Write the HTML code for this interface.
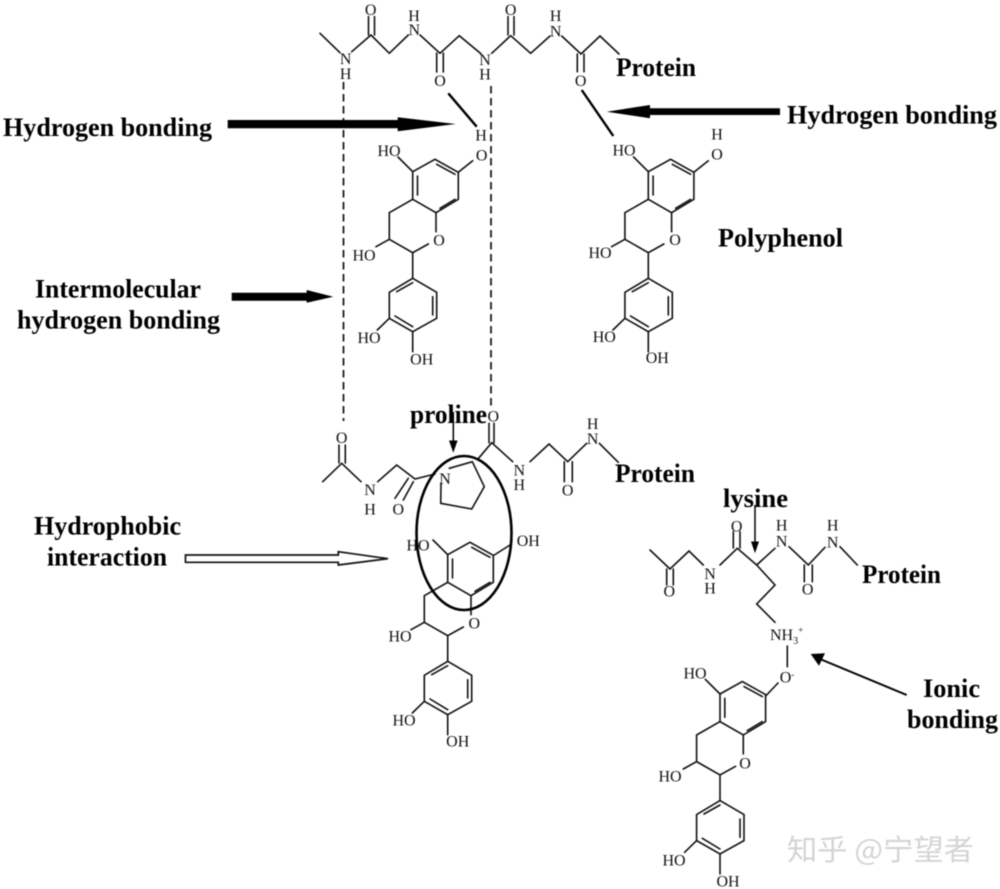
<!DOCTYPE html>
<html><head><meta charset="utf-8"><style>
html,body{margin:0;padding:0;background:#fff;width:1000px;height:889px;overflow:hidden}
svg{display:block;filter:blur(.45px)}
.b{fill:none;stroke:#111;stroke-width:1.6;stroke-linejoin:miter;stroke-linecap:round}
.a{font:16px "Liberation Serif",serif;fill:#111;text-anchor:middle}
.t{font:bold 26px "Liberation Serif",serif;fill:#000}
</style></head><body>
<svg width="1000" height="889" viewBox="0 0 1000 889" xmlns="http://www.w3.org/2000/svg">
<defs>
<g id="cat" class="b">
<path d="M412.7 171.7L435 159.3L458.3 172.3V199.3L436 212.7L412.7 199.3Z"/>
<path d="M417.5 176V195M436.7 164.3L455 174.3M440 208.3L455 199.3"/>
<path d="M412.7 199.3L389.3 212.7V239.3L412.7 252.7L428.3 244M436 212.7V231.7M389.3 239.3L376 246.7M412.7 252.7V278.3"/>
<path d="M412.7 278.3L436.7 292.3V318.3L412.7 331.7L389.3 318.3V292.3Z"/>
<path d="M396.7 291.7L412.7 282.7M432.7 296.7V315M395 316L412.7 326.7"/>
<path d="M389.3 318.3L377.3 330M412.7 331.7V351.7M412.7 171.7L398 157"/>
</g>
</defs>
<rect width="1000" height="889" fill="#fff"/>

<!-- catechin units -->
<use href="#cat"/>
<use href="#cat" transform="translate(235.6,0)"/>
<use href="#cat" transform="translate(35,383)"/>
<use href="#cat" transform="translate(307.3,522.3)"/>
<path class="b" d="M458.3 172.3L472.7 160.7M693.9 172.3L708.3 160.7M494.3 555L510 545M765.7 696L778 683"/>

<g class="a">
<text x="389" y="156">HO</text><text x="481.7" y="160.5">O</text><text x="481" y="140.5">H</text><text x="439" y="245.5">O</text><text x="364" y="260.5">HO</text><text x="369" y="343">HO</text><text x="421.7" y="364.5">OH</text>
<text x="624" y="155.5">HO</text><text x="717" y="159.5">O</text><text x="717" y="139.5">H</text><text x="675" y="245">O</text><text x="600" y="258">HO</text><text x="604.3" y="342">HO</text><text x="657.3" y="363">OH</text>
<text x="418" y="550.5">HO</text><text x="528.3" y="546">OH</text><text x="474.3" y="628.5">O</text><text x="400" y="641.5">HO</text><text x="404" y="725.5">HO</text><text x="457.7" y="746.5">OH</text>
<text x="695" y="678.5">HO</text><text x="787" y="682.5">O<tspan font-size="9" dy="-5">-</tspan></text><text x="745" y="768.5">O</text><text x="670" y="781.5">HO</text><text x="674" y="865.5">HO</text><text x="728" y="886.5">OH</text>
</g>

<!-- top peptide -->
<path class="b" d="M320 33.3L340 52.7M351.7 51.7L371 35L389.3 53.3L408.3 35M420 35L440 53.3L459.3 35.7L481 53.7M491.7 53.3L510.7 35.7L530.7 53.3L550 36M561.7 36L581 54L600 36L619 54"/>
<path class="b" d="M368.5 35V16.5M374.5 35V16.5M436.7 53V72M443.3 53V72M508 35V16.5M514 35V16.5M577.3 54V71.7M584 54V71.7"/>
<g class="a">
<text x="370.7" y="15">O</text><text x="345.7" y="64">N</text><text x="345.7" y="79">H</text><text x="414.3" y="35">N</text><text x="414" y="21">H</text><text x="440" y="86">O</text><text x="485" y="65">N</text><text x="485" y="79.5">H</text><text x="510.7" y="15">O</text><text x="555.7" y="36.5">N</text><text x="555.7" y="21">H</text><text x="580.7" y="86">O</text>
</g>

<!-- dashed -->
<path d="M343.5 82V421M491 86V406" fill="none" stroke="#111" stroke-width="1.7" stroke-dasharray="7.5 4.5"/>

<!-- H-bonds -->
<path d="M448.3 93.3L476.7 126.7M581.7 90L613.3 136" fill="none" stroke="#000" stroke-width="2.4"/>

<!-- arrows -->
<path d="M227.7 120H397.7V117.3L455.7 124L397.7 131.3V128.3H227.7Z" fill="#000"/>
<path d="M780 108.3H650V105L606.7 111.7L650 118.3V115H780Z" fill="#000"/>
<path d="M231.7 292.7H306.7V290L333.3 296.7L306.7 302.7V300.7H231.7Z" fill="#000"/>
<path d="M185.5 555H338.3V551.7L388 558.7L338.3 565V562.3H185.5Z" fill="#fff" stroke="#111" stroke-width="1.7"/>
<path d="M453.3 412V442" stroke="#000" stroke-width="1.5"/>
<path d="M449 440.5H457.6L453.3 452.7Z" fill="#000"/>
<path d="M755 505V543" stroke="#000" stroke-width="1.5"/>
<path d="M751 541.5H759L755 553.3Z" fill="#000"/>
<path d="M906.7 695L820 659" stroke="#000" stroke-width="2"/>
<path d="M810.7 654L825 653.3L819 665.7Z" fill="#000"/>

<!-- middle peptide -->
<path class="b" d="M322.7 481.7L341.7 463.3L361 481.7M377.7 481.7L396.7 465L415 479L435 474M441 483.3L440.7 503.3L471.7 509L484.3 486.7L472.3 461.7L449.3 468.3M477.7 459.3L491.7 442.7L512.7 461.7M530 461.7L549 444L567.7 461.7L586.7 443.3M599.3 443.3L618.3 462.3"/>
<path class="b" d="M339 463V445M345.3 463V445M408.3 478.3L395 498.3M413.3 481.7L403.3 500M489 442.7V423.3M494 442.7V423.3M564.3 461.7V481.7M572.3 461.7V481.7"/>
<g class="a">
<text x="341.7" y="443">O</text><text x="370" y="495">N</text><text x="370" y="514.5">H</text><text x="398.3" y="514.5">O</text><text x="445" y="484">N</text><text x="493.3" y="421.5">O</text><text x="519.3" y="475.5">N</text><text x="519.3" y="490">H</text><text x="567.7" y="495.5">O</text><text x="592.7" y="444">N</text><text x="592.7" y="429">H</text>
</g>
<ellipse cx="464" cy="533" rx="47.5" ry="77" fill="none" stroke="#000" stroke-width="2.6"/>

<!-- lysine peptide -->
<path class="b" d="M650 550L670 569L689 551L703.3 565M720 565L737.3 548.3L756.7 565L775 548.3M789 546.7L808.3 565L825 547.3M840 546.7L857.3 565M756.7 565L775 585L756.7 604L775 622.3M787.3 646V666.7"/>
<path class="b" d="M666.7 569V585M673.3 569V585M733.3 548V531.7M740 548V531.7M804.3 565V581.7M812.3 565V581.7"/>
<g class="a">
<text x="669.3" y="596.5">O</text><text x="710" y="579">N</text><text x="710" y="593.5">H</text><text x="736.7" y="531.5">O</text><text x="781.7" y="546.5">N</text><text x="781.7" y="530.5">H</text><text x="807.7" y="594.5">O</text><text x="832.7" y="547.5">N</text><text x="832.7" y="530.5">H</text>
</g>
<text x="770" y="640" style="font:16px 'Liberation Serif',serif;fill:#111">NH<tspan font-size="10" dy="4">3</tspan><tspan font-size="9" dy="-11">+</tspan></text>

<!-- bold labels -->
<g class="t">
<text x="616" y="76" textLength="80" lengthAdjust="spacingAndGlyphs">Protein</text>
<text x="3" y="136" textLength="209" lengthAdjust="spacingAndGlyphs">Hydrogen bonding</text>
<text x="787" y="123.5" textLength="210" lengthAdjust="spacingAndGlyphs">Hydrogen bonding</text>
<text x="718" y="246.7" textLength="125" lengthAdjust="spacingAndGlyphs">Polyphenol</text>
<text x="35" y="297.3" textLength="166" lengthAdjust="spacingAndGlyphs">Intermolecular</text>
<text x="17" y="328.3" textLength="203" lengthAdjust="spacingAndGlyphs">hydrogen bonding</text>
<text x="410" y="423" textLength="77" lengthAdjust="spacingAndGlyphs">proline</text>
<text x="615" y="482" textLength="80" lengthAdjust="spacingAndGlyphs">Protein</text>
<text x="723" y="507" textLength="65" lengthAdjust="spacingAndGlyphs">lysine</text>
<text x="34" y="534.3" textLength="147" lengthAdjust="spacingAndGlyphs">Hydrophobic</text>
<text x="47" y="565.7" textLength="120" lengthAdjust="spacingAndGlyphs">interaction</text>
<text x="862" y="583" textLength="79" lengthAdjust="spacingAndGlyphs">Protein</text>
<text x="923" y="697" textLength="57" lengthAdjust="spacingAndGlyphs">Ionic</text>
<text x="907" y="728" textLength="91" lengthAdjust="spacingAndGlyphs">bonding</text>
</g>

<!-- watermark -->
<text x="787" y="860" textLength="187" lengthAdjust="spacingAndGlyphs" style="font:29px 'Noto Sans CJK SC',sans-serif;fill:#d4d4d4">知乎 @宁望者</text>
</svg>
</body></html>
